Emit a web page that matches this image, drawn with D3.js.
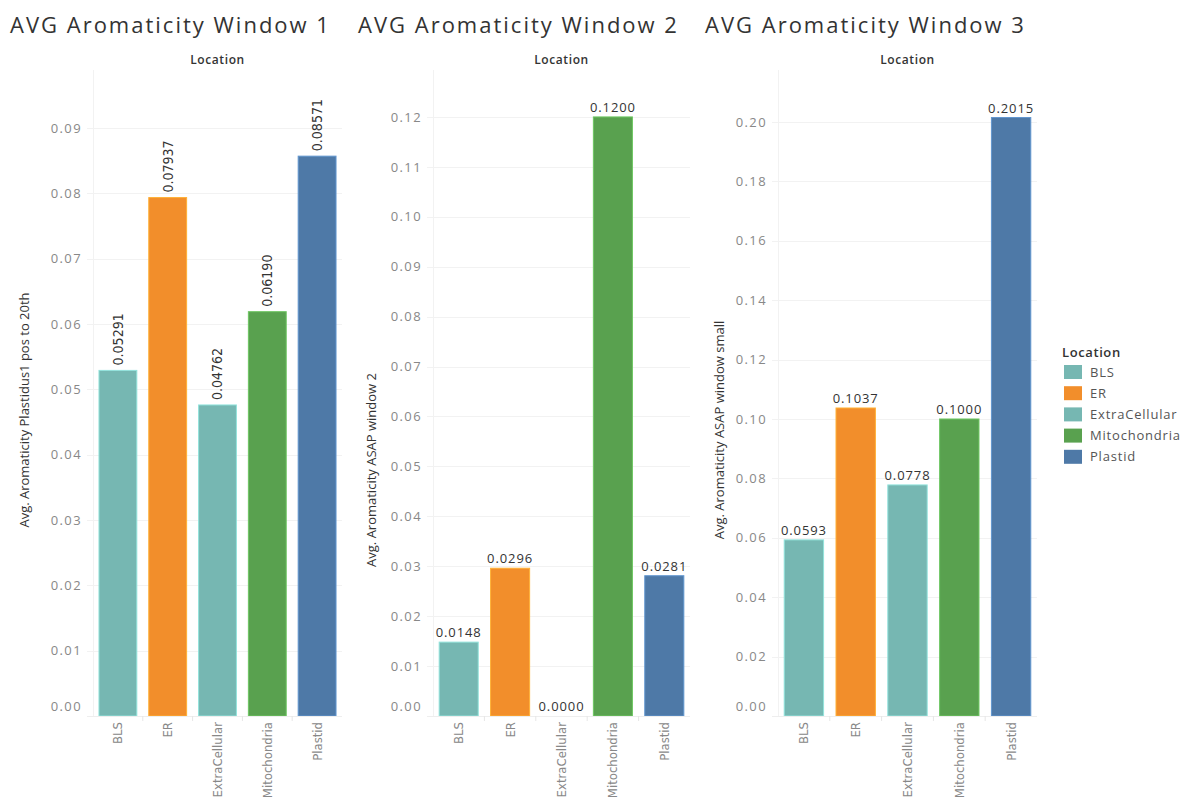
<!DOCTYPE html>
<html>
<head>
<meta charset="utf-8">
<script src="https://cdn.jsdelivr.net/npm/d3@7/dist/d3.min.js"></script>
<style>
  html, body { margin: 0; padding: 0; background: #fff; }
  svg { display: block; }
</style>
</head>
<body>
<svg id="chart" width="1185" height="798"></svg>
<script>
// ---- data ----
const categories = ["BLS", "ER", "ExtraCellular", "Mitochondria", "Plastid"];
const window1Values = [0.05291, 0.07937, 0.04762, 0.06190, 0.08571];
const window2Values = [0.0148, 0.0296, 0.0000, 0.1200, 0.0281];
const window3Values = [0.0593, 0.1037, 0.0778, 0.1000, 0.2015];
const window1Ticks = [0, 0.01, 0.02, 0.03, 0.04, 0.05, 0.06, 0.07, 0.08, 0.09];
const window2Ticks = [0, 0.01, 0.02, 0.03, 0.04, 0.05, 0.06, 0.07, 0.08, 0.09, 0.10, 0.11, 0.12];
const window3Ticks = [0, 0.02, 0.04, 0.06, 0.08, 0.10, 0.12, 0.14, 0.16, 0.18, 0.20];
const panelTitles = ["AVG Aromaticity Window 1", "AVG Aromaticity Window 2", "AVG Aromaticity Window 3"];
const yTitles = ["Avg. Aromaticity Plastidus1 pos to 20th", "Avg. Aromaticity ASAP window 2", "Avg. Aromaticity ASAP window small"];
const colors = ["#76B7B2", "#F28E2B", "#76B7B2", "#59A14F", "#4E79A7"];

const svg = d3.select("#chart");
const color = d3.scaleOrdinal().domain(categories).range(colors);

const FONT = "'Open Sans', 'Noto Sans', sans-serif";
const NARROW = "'Liberation Sans Narrow', 'DejaVu Sans Condensed', 'Open Sans', sans-serif";

const plotTop = 70, plotBase = 716;

const panels = [
  { title: panelTitles[0], titleX: 10, values: window1Values, ticks: window1Ticks, fmtLabel: d3.format(".5f"), vertLabel: true,
    left: 93, right: 342, yMax: 0.0989, yTitle: yTitles[0], yTitleX: 29, yTitleY: 410 },
  { title: panelTitles[1], titleX: 358, values: window2Values, ticks: window2Ticks, fmtLabel: d3.format(".4f"), vertLabel: false,
    left: 433, right: 690, yMax: 0.1294, yTitle: yTitles[1], yTitleX: 376, yTitleY: 470 },
  { title: panelTitles[2], titleX: 705, values: window3Values, ticks: window3Ticks, fmtLabel: d3.format(".4f"), vertLabel: false,
    left: 778, right: 1037, yMax: 0.2175, yTitle: yTitles[2], yTitleX: 724, yTitleY: 430 }
];

panels.forEach(p => {
  const g = svg.append("g");
  const x = d3.scaleBand().domain(categories).range([p.left, p.right]).paddingInner(0.24).paddingOuter(0.12);
  const y = d3.scaleLinear().domain([0, p.yMax]).range([plotBase, plotTop]);

  svg.append("text").attr("x", p.titleX).attr("y", 33)
    .attr("font-family", FONT).attr("font-size", 22).attr("letter-spacing", 2).attr("fill", "#333")
    .text(p.title);

  svg.append("text").attr("x", (p.left + p.right) / 2).attr("y", 64)
    .attr("text-anchor", "middle").attr("font-family", FONT).attr("font-size", 12)
    .attr("letter-spacing", 0.6).attr("font-weight", 600).attr("fill", "#333").text("Location");

  g.append("g").selectAll("line").data(p.ticks.filter(t => t > 0)).join("line")
    .attr("x1", p.left - 6).attr("x2", p.right)
    .attr("y1", d => Math.round(y(d)) + 0.5).attr("y2", d => Math.round(y(d)) + 0.5)
    .attr("stroke", "#f2f2f2").attr("stroke-width", 1);

  g.append("line").attr("x1", p.left + 0.5).attr("x2", p.left + 0.5).attr("y1", plotTop).attr("y2", plotBase)
    .attr("stroke", "#f2f2f2");

  const yAxis = d3.axisLeft(y).tickValues(p.ticks).tickFormat(d3.format(".2f")).tickSize(0).tickPadding(0);
  const ya = g.append("g").attr("transform", `translate(${p.left - 11},0)`).call(yAxis);
  ya.select(".domain").remove();
  ya.selectAll("text").attr("font-family", FONT).attr("font-size", 13).attr("letter-spacing", 1.4)
    .attr("fill", "#888")
    .attr("dy", (d) => d === 0 ? "-0.45em" : "0.32em");

  svg.append("text").attr("transform", `translate(${p.yTitleX},${p.yTitleY}) rotate(-90)`)
    .attr("text-anchor", "middle").attr("font-family", FONT).attr("font-size", 13)
    .attr("fill", "#333").text(p.yTitle);

  const data = categories.map((c, i) => ({ c, v: p.values[i] }));

  g.append("g").selectAll("rect").data(data).join("rect")
    .attr("x", d => x(d.c)).attr("width", x.bandwidth())
    .attr("y", d => y(d.v)).attr("height", d => plotBase - y(d.v))
    .attr("fill", d => color(d.c))
    .attr("stroke", d => d3.color(color(d.c)).brighter(0.6)).attr("stroke-width", 1);

  g.append("line").attr("x1", p.left - 6).attr("x2", p.right).attr("y1", plotBase + 0.5).attr("y2", plotBase + 0.5)
    .attr("stroke", "#eeeeee");

  g.append("g").selectAll("line").data(categories.slice(1)).join("line")
    .attr("x1", d => x(d) - x.step() * x.paddingInner() / 2).attr("x2", d => x(d) - x.step() * x.paddingInner() / 2)
    .attr("y1", plotBase).attr("y2", plotBase + 5).attr("stroke", "#e6e6e6");

  const xAxis = d3.axisBottom(x).tickSize(0).tickPadding(0);
  const xa = g.append("g").attr("transform", `translate(0,${plotBase + 6})`).call(xAxis);
  xa.select(".domain").remove();
  xa.selectAll("text").attr("transform", "rotate(-90)").attr("text-anchor", "end")
    .attr("x", 0).attr("y", 0).attr("dx", 0).attr("dy", "0.35em")
    .attr("font-family", NARROW).attr("font-size", 13).attr("fill", "#888");

  if (p.vertLabel) {
    g.append("g").selectAll("text").data(data).join("text")
      .attr("transform", d => `translate(${x(d.c) + x.bandwidth() / 2},${y(d.v) - 5}) rotate(-90)`)
      .attr("dy", "0.35em").attr("font-family", NARROW).attr("font-size", 14).attr("fill", "#333")
      .text(d => p.fmtLabel(d.v));
  } else {
    g.append("g").selectAll("text").data(data).join("text")
      .attr("x", d => x(d.c) + x.bandwidth() / 2).attr("y", d => y(d.v) - 5)
      .attr("text-anchor", "middle").attr("font-family", FONT).attr("font-size", 13)
      .attr("letter-spacing", 0.9).attr("fill", "#333")
      .text(d => p.fmtLabel(d.v));
  }
});

const lg = svg.append("g").attr("transform", "translate(1062,0)");
lg.append("text").attr("x", 0).attr("y", 357).attr("font-family", FONT).attr("font-size", 13)
  .attr("letter-spacing", 0.6).attr("font-weight", 600).attr("fill", "#333").text("Location");
const rows = lg.selectAll("g.row").data(categories).join("g").attr("class", "row")
  .attr("transform", (d, i) => `translate(0,${372 + i * 21.2})`);
rows.append("rect").attr("x", 2).attr("y", -7).attr("width", 18).attr("height", 14).attr("fill", d => color(d));
rows.append("text").attr("x", 28).attr("y", 0).attr("dy", "0.35em").attr("font-family", FONT)
  .attr("font-size", 13).attr("letter-spacing", 0.8).attr("fill", "#555").text(d => d);
</script>
</body>
</html>
